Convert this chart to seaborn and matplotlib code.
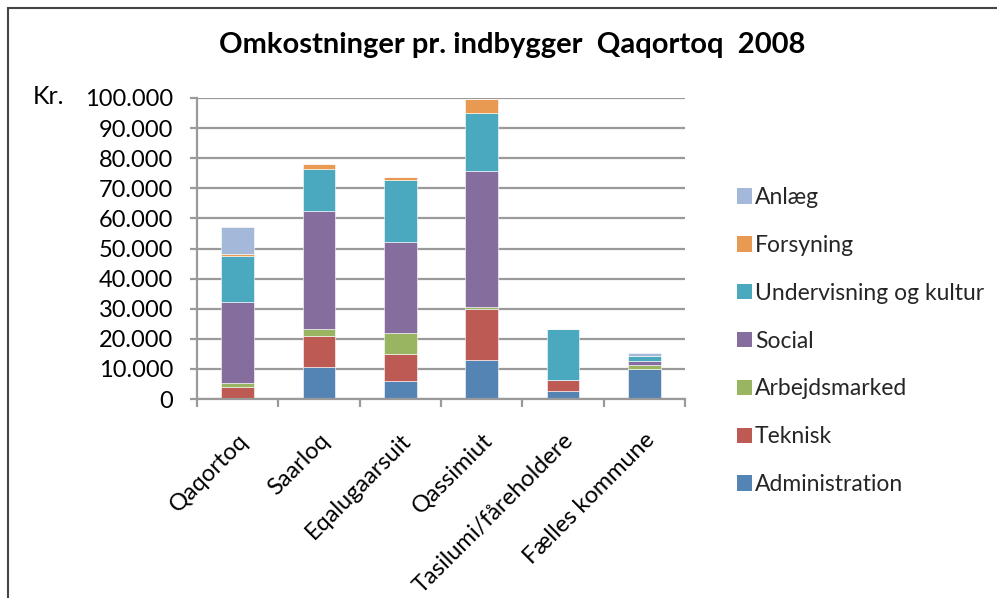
import matplotlib
matplotlib.use("Agg")
import matplotlib.pyplot as plt
import seaborn as sns
import numpy as np
import pandas as pd
from matplotlib.ticker import FuncFormatter, FixedLocator
from matplotlib.patches import Rectangle, Patch

# ---- data ----
categories = ["Qaqortoq", "Saarloq", "Eqalugaarsuit", "Qassimiut",
              "Tasilumi/fåreholdere", "Fælles kommune"]
administration = [300, 10500, 6100, 12900, 2500, 9900]
teknisk = [3600, 10400, 9000, 16900, 3700, 0]
arbejdsmarked = [1500, 2300, 6800, 800, 0, 1400]
social = [26700, 39100, 30200, 45200, 0, 1400]
undervisning = [15500, 14100, 20800, 19100, 17000, 1700]
forsyning = [700, 1600, 700, 4700, 0, 0]
anlaeg = [9000, 0, 0, 0, 0, 800]

series_names = ["Administration", "Teknisk", "Arbejdsmarked", "Social",
                "Undervisning og kultur", "Forsyning", "Anlæg"]
series_values = [administration, teknisk, arbejdsmarked, social,
                 undervisning, forsyning, anlaeg]
colors = ["#5484B4", "#BE5A54", "#9AB561", "#856D9E", "#4AA9BF", "#E99A52", "#A4B9D9"]

title = "Omkostninger pr. indbygger  Qaqortoq  2008"
ylabel = "Kr."

# ---- plot ----
sns.set_theme(style="white")
plt.rcParams["font.family"] = ["Lato", "DejaVu Sans"]

fig = plt.figure(figsize=(9.97, 5.98), dpi=100)
ax = fig.add_axes([197 / 997, 1 - 399 / 598, (685 - 197) / 997, (399 - 98) / 598])

bottom = np.zeros(len(categories))
handles = []
for name, vals, col in zip(series_names, series_values, colors):
    df = pd.DataFrame({"cat": categories, "val": vals})
    sns.barplot(data=df, x="cat", y="val", order=categories, color=col,
                width=0.4, errorbar=None, bottom=bottom, ax=ax,
                edgecolor="white", linewidth=0.4, saturation=1)
    bottom = bottom + np.array(vals, dtype=float)
    handles.append(Patch(facecolor=col, edgecolor="none", label=name))

ax.set_xlim(-0.5, len(categories) - 0.5)
ax.set_ylim(0, 100000)
ax.yaxis.set_major_locator(FixedLocator(np.arange(0, 100001, 10000)))
ax.yaxis.set_major_formatter(FuncFormatter(lambda v, p: f"{v:,.0f}".replace(",", ".")))
ax.grid(axis="y", color="#9a9a9a", linewidth=1.6)
ax.set_axisbelow(True)
for s in ["top", "right"]:
    ax.spines[s].set_visible(False)
ax.spines["left"].set_color("#9a9a9a")
ax.spines["left"].set_linewidth(1.6)
ax.spines["bottom"].set_color("#9a9a9a")
ax.spines["bottom"].set_linewidth(1.6)

ax.set_xlabel("")
ax.set_ylabel("")
ax.tick_params(axis="y", which="major", length=5, width=1.6, color="#9a9a9a",
               labelsize=17, pad=12, left=True, labelcolor="black")
ax.set_xticks(range(len(categories)))
ax.set_xticks(np.arange(-0.5, len(categories), 1.0), minor=True)
ax.tick_params(axis="x", which="major", length=0, pad=22)
ax.tick_params(axis="x", which="minor", length=6, width=1.6, color="#9a9a9a", bottom=True)
ax.set_xticklabels(categories, rotation=45, ha="right", rotation_mode="anchor",
                   fontsize=17, color="black")

fig.text(512 / 997, 1 - 45 / 598, title, ha="center", va="center",
         fontsize=21, fontweight="bold", color="black")
fig.text(33 / 997, 1 - 96 / 598, ylabel, ha="left", va="center", fontsize=18, color="black")

leg = fig.legend(handles=handles[::-1], loc="upper left",
                 bbox_to_anchor=(728 / 997, 1 - 178 / 598),
                 frameon=False, fontsize=16.5, handlelength=0.65, handleheight=0.65,
                 handletextpad=0.12, labelspacing=1.17, borderaxespad=0)

fig.patches.append(Rectangle((8 / 997, -0.2), 1.5, 1 - 8 / 598 + 0.2,
                             transform=fig.transFigure, fill=False,
                             edgecolor="#444444", linewidth=1.5, figure=fig))

fig.savefig("out.png", dpi=100)
